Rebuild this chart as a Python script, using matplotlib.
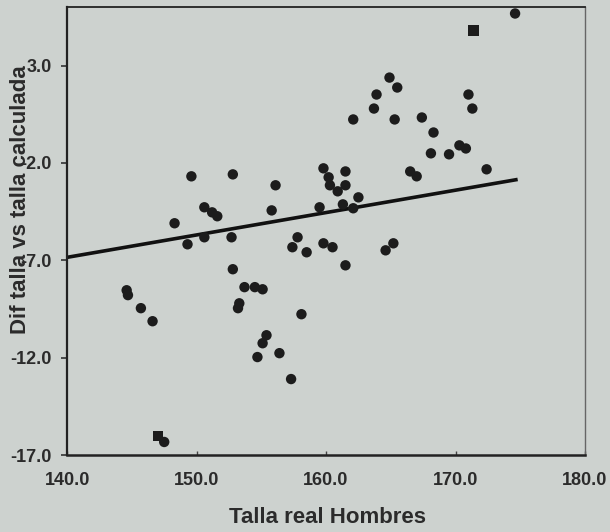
import numpy as np
from matplotlib import pyplot as plt

# Talla real (cm) vs diferencia talla real - talla calculada
talla_real = [174.6, 164.9, 165.5, 163.9, 163.7, 162.1, 165.3, 167.4, 171.0, 171.3,
              168.3, 168.1, 169.5, 170.3, 170.8, 172.4, 166.5, 167.0, 159.8, 160.2,
              160.3, 160.9, 161.5, 161.5, 162.5, 162.1, 161.3, 159.5, 157.8, 157.4,
              158.5, 159.8, 160.5, 161.5, 164.6, 165.2, 149.6, 152.8, 156.1, 150.6,
              151.2, 151.6, 155.8, 148.3, 149.3, 150.6, 152.7, 152.8, 144.6, 144.7,
              145.7, 146.6, 147.5, 153.7, 154.5, 155.1, 153.3, 153.2, 155.4, 155.1,
              154.7, 156.4, 157.3, 158.1]
dif_talla = [5.67, 2.38, 1.87, 1.51, 0.79, 0.23, 0.23, 0.33, 1.51, 0.79,
             -0.44, -1.51, -1.56, -1.10, -1.26, -2.33, -2.44, -2.69, -2.28, -2.74,
             -3.15, -3.46, -2.44, -3.15, -3.77, -4.33, -4.13, -4.28, -5.82, -6.33,
             -6.59, -6.13, -6.33, -7.26, -6.49, -6.13, -2.69, -2.59, -3.15, -4.28,
             -4.54, -4.74, -4.44, -5.10, -6.18, -5.82, -5.82, -7.46, -8.54, -8.79,
             -9.46, -10.13, -16.33, -8.38, -8.38, -8.49, -9.21, -9.46, -10.85, -11.26,
             -11.97, -11.77, -13.10, -9.77]

# puntos marcados con cuadrado
talla_sq = [171.4, 147.0]
dif_sq = [4.79, -16.03]

# recta de regresion (extremos)
recta_x = [140.0, 174.8]
recta_y = [-6.85, -2.85]

xticks = [140, 150, 160, 170, 180]
yticks = [3, -2, -7, -12, -17]

bg = '#cdd2cf'
txt = '#2b2b2b'
plt.rcParams['font.family'] = ['Liberation Sans', 'DejaVu Sans']

fig = plt.figure(figsize=(6.1, 5.32), dpi=100, facecolor=bg)
ax = fig.add_axes([0.110, 0.1447, 0.849, 0.842], facecolor=bg)

ax.plot(recta_x, recta_y, color='#111111', lw=2.6, solid_capstyle='butt', zorder=2)
ax.scatter(talla_real, dif_talla, s=56, color='#1c1c1c', edgecolors='none', zorder=3)
ax.scatter(talla_sq, dif_sq, s=56, marker='s', color='#1c1c1c', edgecolors='none', zorder=3)

ax.set_xlim(140, 180)
ax.set_ylim(-17, 6)
ax.set_xticks(xticks)
ax.set_yticks(yticks)
ax.set_xticklabels(['%.1f' % v for v in xticks])
ax.set_yticklabels(['%.1f' % v for v in yticks])

ax.tick_params(axis='x', direction='in', length=3, width=1, color='#444444',
               pad=12, labelsize=13, labelcolor=txt)
ax.tick_params(axis='y', direction='out', length=4, width=1.2, color='#333333',
               pad=7, labelsize=13, labelcolor=txt)
for lab in ax.get_xticklabels() + ax.get_yticklabels():
    lab.set_fontweight('bold')

ax.spines['left'].set_color('#222222')
ax.spines['left'].set_linewidth(1.6)
ax.spines['bottom'].set_color('#222222')
ax.spines['bottom'].set_linewidth(1.8)
ax.spines['top'].set_color('#222222')
ax.spines['top'].set_linewidth(1.3)
ax.spines['right'].set_color('#666666')
ax.spines['right'].set_linewidth(1.0)
ax.spines['right'].set_linestyle((0, (1, 1)))

fig.text(0.537, 0.027, 'Talla real Hombres', ha='center', va='center',
         fontsize=16, fontweight='bold', color=txt)
fig.text(0.034, 0.624, 'Dif talla vs talla calculada', ha='center', va='center',
         rotation=90, fontsize=16, fontweight='bold', color=txt)

plt.savefig('out.png', dpi=100, facecolor=bg)
plt.close()
